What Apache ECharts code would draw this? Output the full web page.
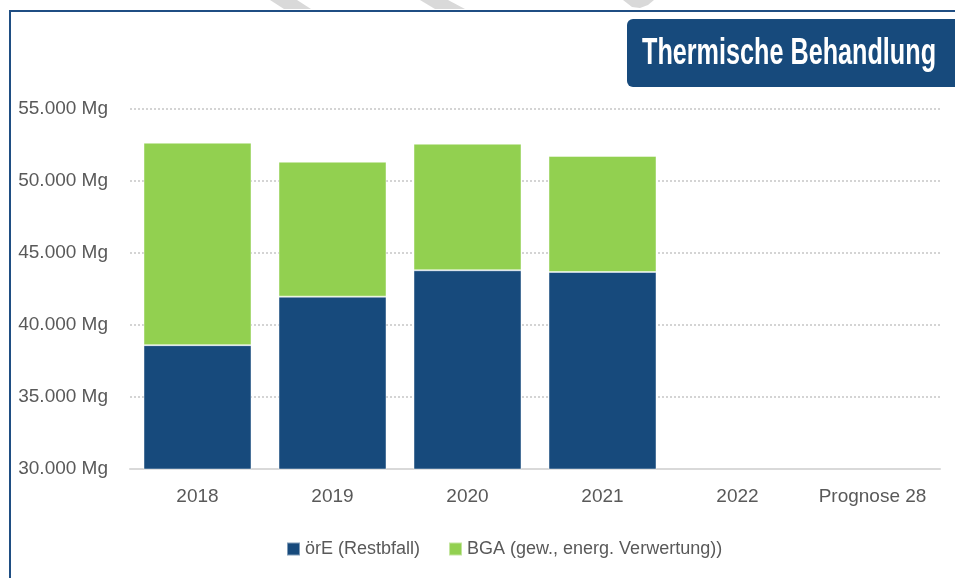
<!DOCTYPE html>
<html>
<head>
<meta charset="utf-8">
<script src="https://cdn.jsdelivr.net/npm/echarts@6/dist/echarts.min.js"></script>
<style>
html,body{margin:0;padding:0;background:#fff;}
#chart{width:955px;height:578px;}
</style>
</head>
<body>
<div id="chart"></div>
<script>
// ---- data ----
const categories = ['2018', '2019', '2020', '2021', '2022', 'Prognose 28'];
const oreValues = [38600, 41970, 43800, 43680, null, null];
const bgaValues = [14060, 9370, 8790, 8060, null, null];
const seriesNames = ['örE (Restbfall)', 'BGA (gew., energ. Verwertung))'];
const titleText = 'Thermische Behandlung';
const yMin = 30000, yMax = 55000, yStep = 5000;

const FONT = '"Liberation Sans", Arial, sans-serif';
const BLUE = '#174a7c';
const GREEN = '#92d050';
const TXT = '#595959';

function fmt(v) {
  return String(v).replace(/\B(?=(\d{3})+(?!\d))/g, '.') + ' Mg';
}

const chart = echarts.init(document.getElementById('chart'), null, {renderer: 'canvas'});
chart.setOption({
  animation: false,
  backgroundColor: '#fff',
  textStyle: {fontFamily: FONT},
  grid: {left: 130, right: 15, top: 109, bottom: 109, containLabel: false},
  legend: {
    left: 286, top: 540, padding: 0,
    itemWidth: 13, itemHeight: 13, itemGap: 28,
    icon: 'rect',
    textStyle: {fontFamily: FONT, fontSize: 18, color: TXT},
    data: seriesNames
  },
  xAxis: {
    type: 'category',
    data: categories,
    axisLine: {lineStyle: {color: '#d9d9d9', width: 2}},
    axisTick: {show: false},
    axisLabel: {fontFamily: FONT, fontSize: 19, color: TXT, margin: 18, interval: 0}
  },
  yAxis: {
    type: 'value',
    min: yMin, max: yMax, interval: yStep,
    axisLine: {show: false},
    axisTick: {show: false},
    axisLabel: {fontFamily: FONT, fontSize: 19, color: TXT, margin: 22, formatter: fmt},
    splitLine: {lineStyle: {color: '#d4d4d4', width: 2, type: [2, 2]}}
  },
  series: [
    {
      name: seriesNames[0], type: 'bar', stack: 'total',
      data: oreValues, barCategoryGap: '20%',
      itemStyle: {color: BLUE, borderColor: 'rgba(255,255,255,0.45)', borderWidth: 1}
    },
    {
      name: seriesNames[1], type: 'bar', stack: 'total',
      data: bgaValues, barCategoryGap: '20%',
      itemStyle: {color: GREEN, borderColor: 'rgba(255,255,255,0.45)', borderWidth: 1}
    }
  ],
  graphic: [
    // watermark fragments at the top
    {type: 'polygon', shape: {points: [[270, 0], [297, 0], [311, 9], [284, 9]]}, style: {fill: '#d9d9d9'}, silent: true},
    {type: 'polygon', shape: {points: [[420, 0], [448, 0], [465, 9], [435, 9]]}, style: {fill: '#d9d9d9'}, silent: true},
    {type: 'polygon', shape: {points: [[623, 0], [654, 0], [648, 5], [640, 8], [632, 7]]}, style: {fill: '#d9d9d9'}, silent: true},
    // frame
    {type: 'rect', shape: {x: 10, y: 11, width: 1000, height: 700}, style: {fill: 'none', stroke: '#1f4e83', lineWidth: 2}, silent: true},
    // title box
    {type: 'rect', shape: {x: 627, y: 19, width: 400, height: 68, r: 6}, style: {fill: BLUE}, silent: true},
    {
      type: 'text', x: 642, y: 54, scaleX: 0.7, originX: 0, originY: 0,
      style: {text: titleText, fill: '#fff', font: 'bold 36px ' + FONT, textAlign: 'left', textVerticalAlign: 'middle'},
      silent: true
    }
  ]
});
</script>
</body>
</html>
